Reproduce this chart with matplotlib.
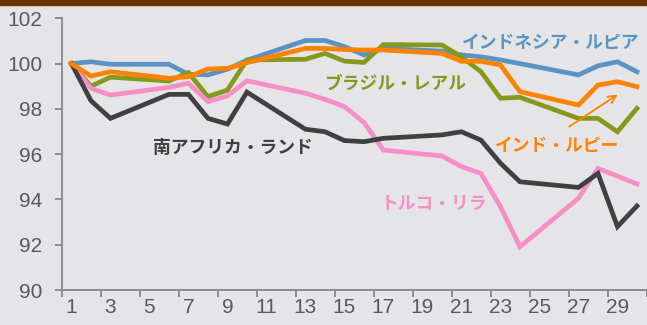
import numpy as np
import matplotlib
matplotlib.use("Agg")
import matplotlib.pyplot as plt

plt.rcParams['font.family'] = ['Liberation Sans', 'Noto Sans CJK JP', 'DejaVu Sans']

days = list(range(1, 31))
N = None
idr = [100.0, 100.08, 99.97, N, N, 99.97, 99.53, 99.5, 99.75, 100.15, N, N, 101.02, 101.02, 100.75, 100.38, 100.67, N, N, 100.55,
       100.38, 100.3, 100.16, 100.0, N, N, 99.5, 99.9, 100.08, 99.64]
inr = [100.0, 99.45, 99.64, N, N, 99.35, 99.42, 99.76, 99.79, 100.04, N, N, 100.67, 100.67, 100.62, 100.6, 100.6, N, N, 100.45,
       100.1, 100.1, 99.94, 98.76, N, N, 98.17, 99.05, 99.2, 98.98]
brl = [100.0, 99.0, 99.4, N, N, 99.23, 99.6, 98.54, 98.83, 100.16, N, N, 100.19, 100.45, 100.11, 100.05, 100.84, N, N, 100.82,
       100.3, 99.64, 98.47, 98.51, N, N, 97.58, 97.58, 96.99, 98.02]
tryl = [100.0, 98.91, 98.61, N, N, 98.95, 99.13, 98.32, 98.57, 99.24, N, N, 98.69, 98.42, 98.1, 97.4, 96.18, N, N, 95.92,
        95.45, 95.15, 93.68, 91.91, N, N, 94.05, 95.37, 95.03, 94.68]
zar = [100.0, 98.36, 97.58, N, N, 98.64, 98.64, 97.58, 97.33, 98.74, N, N, 97.1, 96.99, 96.6, 96.55, 96.7, N, N, 96.85,
       96.99, 96.62, 95.6, 94.78, N, N, 94.53, 95.15, 92.8, 93.71]

yticks = [90, 92, 94, 96, 98, 100, 102]
xticklabels = [str(d) for d in range(1, 31, 2)]

series = [
    ("インドネシア・ルピア", idr, "#5B93C3", (25.59, 100.91)),
    ("ブラジル・レアル", brl, "#86991E", (17.59, 99.10)),
    ("トルコ・リラ", tryl, "#F68FC6", (19.59, 93.80)),
    ("南アフリカ・ランド", zar, "#404040", (9.28, 96.27)),
    ("インド・ルピー", inr, "#FF8200", (25.90, 96.36)),
]

bg = "#E5E5E7"
fig = plt.figure(figsize=(6.47, 3.25), dpi=100, facecolor=bg)
ax = fig.add_axes([61.7 / 647, 35 / 325, 585 / 647, 271.7 / 325], facecolor=bg)

# brown bar at top
fig.patches.append(plt.Rectangle((0, 1 - 5 / 325), 1, 5 / 325, transform=fig.transFigure,
                                 color="#6B3300", zorder=10))

for name, vals, col, (tx, ty) in series:
    x = np.array([d for d, v in zip(days, vals) if v is not None])
    y = np.array([v for v in vals if v is not None])
    ax.plot(x, y, color=col, lw=3.4, solid_joinstyle='miter', clip_on=False)
    ax.text(tx, ty, name, color=col, fontsize=12.8, fontweight='bold',
            family=['Noto Sans CJK JP'], ha='center', va='center')

ax.annotate("", xy=(29.13, 98.70), xytext=(26.41, 97.15),
            arrowprops=dict(arrowstyle='->', color="#FF8200", lw=1.3, mutation_scale=14))

ax.set_xlim(0.5, 30.5)
ax.set_ylim(90, 102)
ax.set_yticks(yticks)
ax.set_yticklabels([str(t) for t in yticks])
ax.set_xticks(np.arange(0.5, 31, 2))
ax.set_xticklabels([])
ax.set_xticks(range(1, 31, 2), minor=True)
ax.set_xticklabels(xticklabels, minor=True)

gray = "#8C8C8C"
for s in ['top', 'right']:
    ax.spines[s].set_visible(False)
for s in ['left', 'bottom']:
    ax.spines[s].set_color(gray)
    ax.spines[s].set_linewidth(1.4)
ax.tick_params(axis='y', which='major', direction='out', length=5, width=1.4, color=gray,
               labelsize=15, labelcolor="#595959", pad=9)
ax.tick_params(axis='x', which='major', direction='out', length=5, width=1.4, color=gray)
ax.tick_params(axis='x', which='minor', length=0, labelsize=15, labelcolor="#595959", pad=6)

fig.savefig("out.png", dpi=100, facecolor=bg)
